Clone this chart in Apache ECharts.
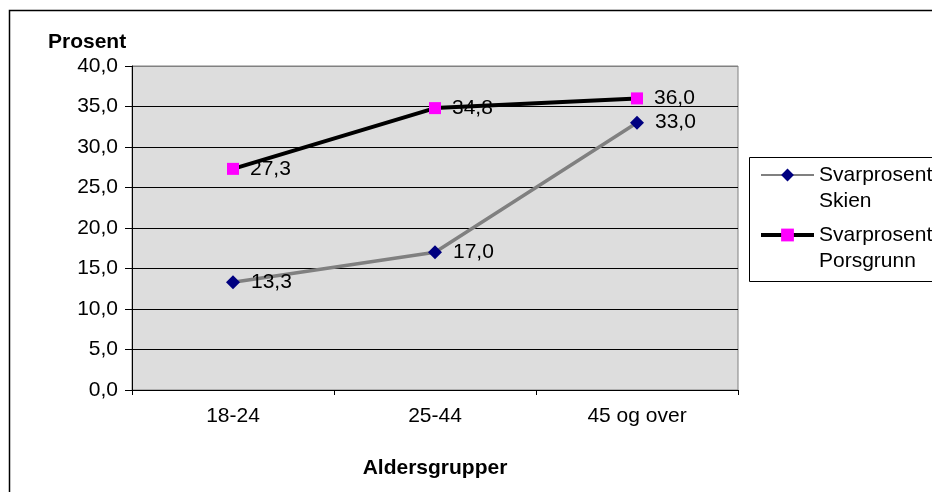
<!DOCTYPE html>
<html><head><meta charset="utf-8">
<script src="https://cdn.jsdelivr.net/npm/echarts@6/dist/echarts.min.js"></script>
<style>html,body{margin:0;padding:0;background:#fff}#c{width:932px;height:492px}</style>
</head><body><div id="c"></div>
<script>
const categories = ['18-24', '25-44', '45 og over'];
const skien = [13.3, 17.0, 33.0];
const porsgrunn = [27.3, 34.8, 36.0];
const seriesNames = ['Svarprosent Skien', 'Svarprosent Porsgrunn'];
const yTicks = [0, 5, 10, 15, 20, 25, 30, 35, 40];

const fmt = v => v.toFixed(1).replace('.', ',');
const font = 'Liberation Sans, Arial, sans-serif';
const fs = 21;
const chart = echarts.init(document.getElementById('c'));
chart.setOption({
  animation: false,
  backgroundColor: '#fff',
  textStyle: { fontFamily: font },
  title: { text: 'Prosent', left: 48, top: 32, padding: 0,
    textStyle: { fontFamily: font, fontSize: 21, fontWeight: 'bold', color: '#000' } },
  grid: { left: 132, top: 66, right: 194, bottom: 102, show: true,
    backgroundColor: '#DDDDDD', borderColor: '#808080', borderWidth: 1 },
  graphic: [
    { type: 'rect', shape: { x: 9.5, y: 10.5, width: 2000, height: 2000 },
      style: { fill: 'none', stroke: '#000', lineWidth: 1.5 }, z: 100 },
    { type: 'rect', shape: { x: 749.5, y: 157.5, width: 400, height: 124 },
      style: { fill: '#fff', stroke: '#000', lineWidth: 1 }, z: 1 }
  ],
  legend: {
    orient: 'vertical', left: 759, top: 136, padding: 0, itemGap: -18,
    itemWidth: 53, itemHeight: 16, z: 10,
    data: [
      { name: seriesNames[0], lineStyle: { width: 2, color: '#808080' } },
      { name: seriesNames[1], lineStyle: { width: 4, color: '#000' } }
    ],
    formatter: n => '\n' + n.replace(' ', '\n'),
    textStyle: { fontFamily: font, fontSize: fs, color: '#000', lineHeight: 26 }
  },
  xAxis: {
    type: 'category', data: categories, boundaryGap: true,
    axisLine: { lineStyle: { color: '#000', width: 1 } },
    axisTick: { show: true, length: 5, lineStyle: { color: '#000' } },
    axisLabel: { fontFamily: font, fontSize: fs, color: '#000', margin: 16 },
    name: 'Aldersgrupper', nameLocation: 'middle', nameGap: 68,
    nameTextStyle: { fontFamily: font, fontSize: fs, fontWeight: 'bold', color: '#000' }
  },
  yAxis: {
    type: 'value', min: yTicks[0], max: yTicks[yTicks.length - 1], interval: 5,
    axisLine: { show: true, lineStyle: { color: '#000', width: 1 } },
    axisTick: { show: true, length: 7, lineStyle: { color: '#000' } },
    axisLabel: { fontFamily: font, fontSize: fs, color: '#000', margin: 14, formatter: v => fmt(v) },
    splitLine: { show: true, lineStyle: { color: ['#000','#000','#000','#000','#000','#000','#000','#000','#808080'], width: 1 } }
  },
  series: [
    { name: seriesNames[0], type: 'line', data: skien,
      symbol: 'diamond', symbolSize: 14,
      lineStyle: { color: '#808080', width: 3.5 },
      itemStyle: { color: '#000080' },
      label: { show: true, position: 'right', distance: 11, fontFamily: font, fontSize: fs, color: '#000', formatter: p => fmt(p.value) } },
    { name: seriesNames[1], type: 'line', data: porsgrunn,
      symbol: 'rect', symbolSize: 12,
      lineStyle: { color: '#000', width: 4 },
      itemStyle: { color: '#FF00FF' },
      label: { show: true, position: 'right', distance: 11, fontFamily: font, fontSize: fs, color: '#000', formatter: p => fmt(p.value) } }
  ]
});
</script></body></html>
